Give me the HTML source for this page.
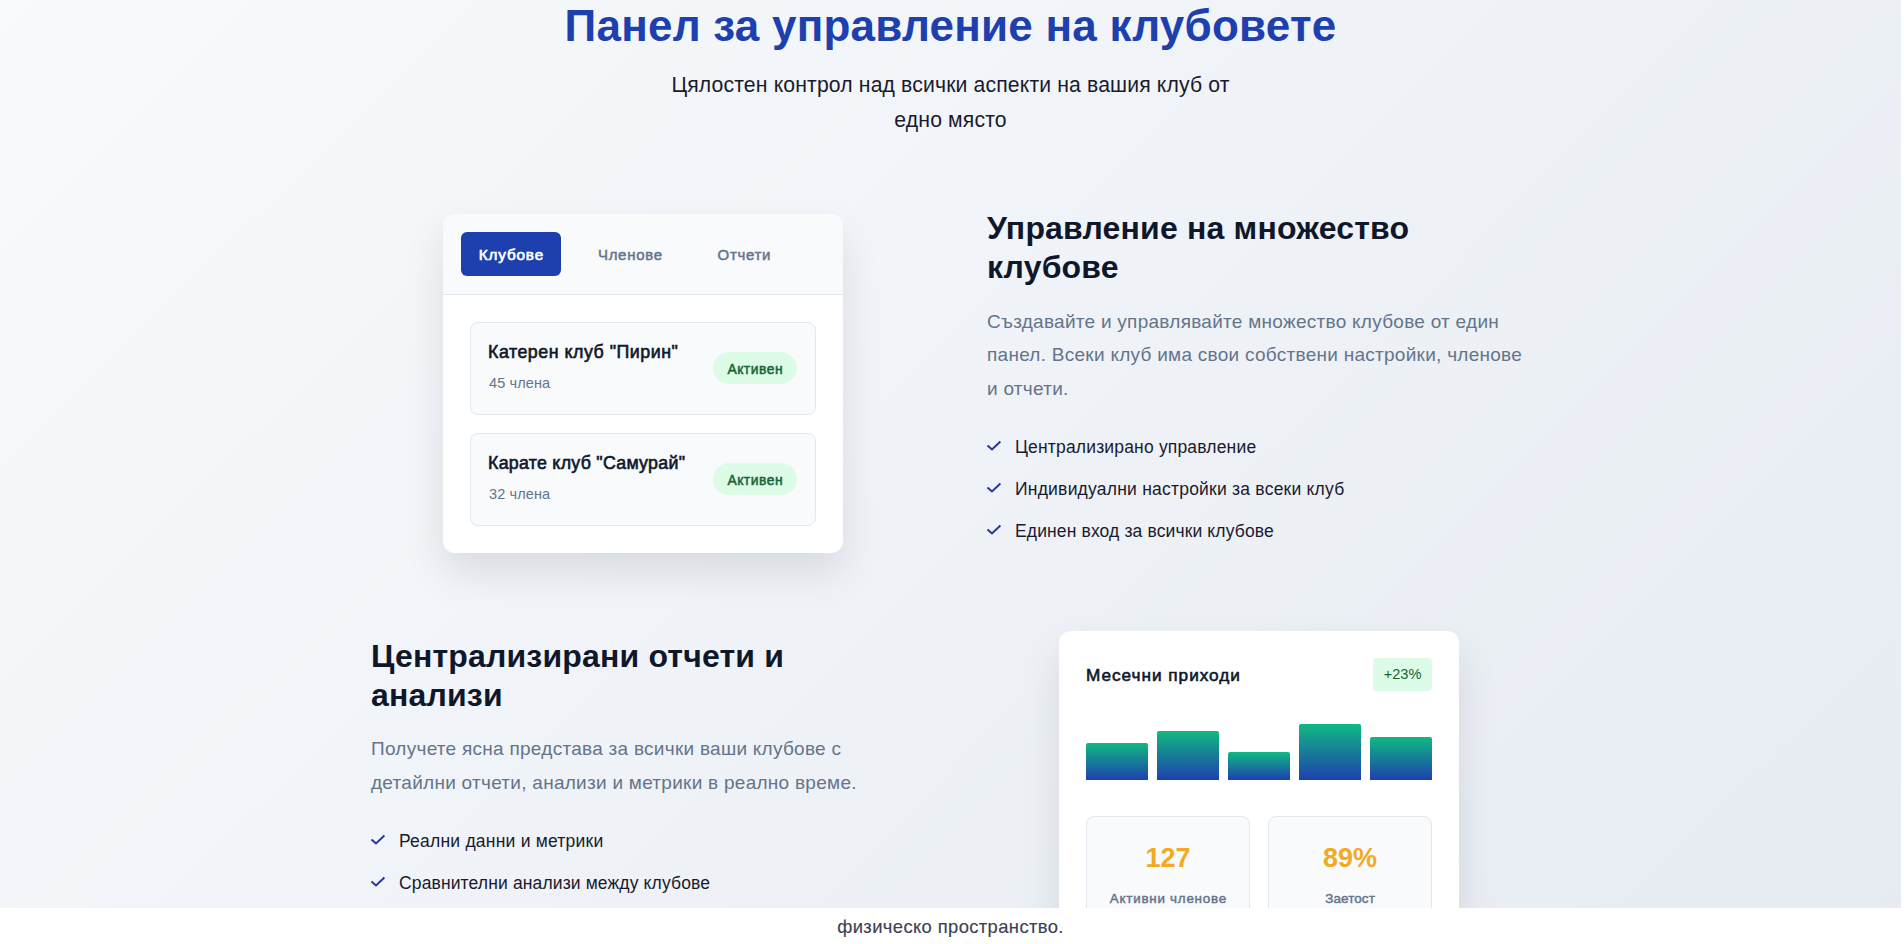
<!DOCTYPE html>
<html lang="bg">
<head>
<meta charset="utf-8">
<title>Панел за управление на клубовете</title>
<style>
*{box-sizing:border-box;margin:0;padding:0}
html,body{width:1904px;height:944px;overflow:hidden;background:#fff}
body{font-family:"Liberation Sans",sans-serif;color:#1a1a2e;position:relative}
.section{position:absolute;left:0;top:0;width:1901px;height:1585px;background:linear-gradient(135deg,#f8fafc 0%,#e2e8f0 100%)}
.abs{position:absolute;white-space:nowrap}
h1{position:absolute;left:0;width:1901px;top:-1px;text-align:center;font-size:44px;line-height:54px;font-weight:700;color:#1e40af;letter-spacing:.23px;white-space:nowrap}
.sub{position:absolute;left:600px;width:701px;top:68.3px;text-align:center;font-size:21.2px;line-height:34.4px;color:#1a1a2e;letter-spacing:.14px;white-space:nowrap}
h2{position:absolute;font-size:32px;line-height:38.8px;font-weight:700;color:#0f172a;white-space:nowrap;letter-spacing:.18px}
.p{position:absolute;font-size:19px;line-height:33.7px;color:#64748b;white-space:nowrap;letter-spacing:.27px}
.li{position:absolute;font-size:17.5px;line-height:25px;color:#1a1a2e;white-space:nowrap;padding-left:28px;letter-spacing:.22px}
.li svg{position:absolute;left:0;top:0;width:16px;height:25px;overflow:visible}
.card{position:absolute;width:400px;background:#fff;border-radius:12px;box-shadow:0 20px 40px rgba(0,0,0,.1)}
.tabs{height:81px;background:#f8fafc;border-bottom:1px solid #e2e8f0;position:relative;border-radius:12px 12px 0 0}
.tab{position:absolute;top:18px;height:44px;line-height:44px;padding-top:1px;font-size:15px;font-weight:400;-webkit-text-stroke:.5px currentColor;color:#64748b;border-radius:6px;text-align:center;letter-spacing:.7px;text-indent:.7px}
.tab.on{background:#1e40af;color:#fff;font-size:15.3px;-webkit-text-stroke:.65px currentColor;letter-spacing:.82px;text-indent:.82px}
.club{position:absolute;left:27px;width:346px;height:93px;background:#f8fafc;border:1px solid #e2e8f0;border-radius:8px}
.club .t{position:absolute;left:17px;top:17px;font-size:17.8px;line-height:24px;font-weight:400;-webkit-text-stroke:.6px currentColor;letter-spacing:.43px;color:#0f172a;white-space:nowrap}
.club .s{position:absolute;left:18px;top:49.5px;font-size:14.5px;line-height:20px;color:#64748b;white-space:nowrap;letter-spacing:.12px}
.badge{position:absolute;right:18px;top:29px;width:84px;height:32px;border-radius:16px;background:#dcfce7;color:#166534;font-size:13.9px;font-weight:400;-webkit-text-stroke:.5px currentColor;letter-spacing:.5px;text-indent:.5px;line-height:34px;text-align:center}
.bar{position:absolute;bottom:0;width:62px;border-radius:2px 2px 0 0;background:linear-gradient(180deg,#10b981 0%,#1e40af 100%)}
.stat{position:absolute;top:185px;width:164px;height:120px;background:#f8fafc;border:1px solid #e2e8f0;border-radius:8px;text-align:center}
.stat .n{position:absolute;left:0;right:0;top:23px;font-size:27px;line-height:36px;font-weight:700;color:#f1aa22}
.stat .l{position:absolute;left:0;right:0;top:73px;font-size:13.4px;line-height:18px;font-weight:400;-webkit-text-stroke:.45px currentColor;letter-spacing:.75px;text-indent:.75px;color:#64748b}
.bottom{position:absolute;left:0;top:908px;width:1904px;height:36px;background:#fff}
.bottom .tx{position:absolute;left:0;width:1901px;top:6px;text-align:center;font-size:18.4px;line-height:26px;color:#3c4150;letter-spacing:.38px;-webkit-text-stroke:.15px currentColor}
</style>
</head>
<body>
<div class="section">
  <h1>Панел за управление на клубовете</h1>
  <p class="sub">Цялостен контрол над всички аспекти на вашия клуб от<br>едно място</p>

  <div class="card" style="left:443px;top:214px;height:339px">
    <div class="tabs">
      <div class="tab on" style="left:18px;width:100px">Клубове</div>
      <div class="tab" style="left:137px;width:100px">Членове</div>
      <div class="tab" style="left:256px;width:90px">Отчети</div>
    </div>
    <div class="club" style="top:108px">
      <div class="t" style="letter-spacing:.53px">Катерен клуб "Пирин"</div>
      <div class="s">45 члена</div>
      <div class="badge">Активен</div>
    </div>
    <div class="club" style="top:219px">
      <div class="t" style="letter-spacing:.28px">Карате клуб "Самурай"</div>
      <div class="s">32 члена</div>
      <div class="badge">Активен</div>
    </div>
  </div>

  <h2 style="left:987px;top:209px">Управление на множество<br>клубове</h2>
  <p class="p" style="left:987px;top:304.5px">Създавайте и управлявайте множество клубове от един<br>панел. Всеки клуб има свои собствени настройки, членове<br>и отчети.</p>
  <div class="li" style="left:987px;top:434.5px;letter-spacing:0.17px"><svg viewBox="0 0 16 25"><path d="M0.5 10.4 L5 14.5 L13.4 6.6" fill="none" stroke="#25379a" stroke-width="2"/></svg>Централизирано управление</div>
  <div class="li" style="left:987px;top:476.5px"><svg viewBox="0 0 16 25"><path d="M0.5 10.4 L5 14.5 L13.4 6.6" fill="none" stroke="#25379a" stroke-width="2"/></svg>Индивидуални настройки за всеки клуб</div>
  <div class="li" style="left:987px;top:518.5px;letter-spacing:0.13px"><svg viewBox="0 0 16 25"><path d="M0.5 10.4 L5 14.5 L13.4 6.6" fill="none" stroke="#25379a" stroke-width="2"/></svg>Единен вход за всички клубове</div>

  <h2 style="left:371px;top:637px">Централизирани отчети и<br>анализи</h2>
  <p class="p" style="left:371px;top:732px">Получете ясна представа за всички ваши клубове с<br>детайлни отчети, анализи и метрики в реално време.</p>
  <div class="li" style="left:371px;top:828.5px"><svg viewBox="0 0 16 25"><path d="M0.5 10.4 L5 14.5 L13.4 6.6" fill="none" stroke="#25379a" stroke-width="2"/></svg>Реални данни и метрики</div>
  <div class="li" style="left:371px;top:870.5px;letter-spacing:0.13px"><svg viewBox="0 0 16 25"><path d="M0.5 10.4 L5 14.5 L13.4 6.6" fill="none" stroke="#25379a" stroke-width="2"/></svg>Сравнителни анализи между клубове</div>

  <div class="card" style="left:1059px;top:631px;height:360px">
    <div class="abs" style="left:27px;top:31.5px;font-size:17.2px;line-height:24px;letter-spacing:.98px;font-weight:400;-webkit-text-stroke:.6px currentColor;color:#0f172a">Месечни приходи</div>
    <div class="abs" style="left:314px;top:27px;width:59px;height:33px;border-radius:4px;background:#dcfce7;color:#166534;font-size:14.6px;line-height:33px;text-align:center">+23%</div>
    <div style="position:absolute;left:27px;top:69px;width:346px;height:80px">
      <div class="bar" style="left:0;height:37px"></div>
      <div class="bar" style="left:71px;height:49px"></div>
      <div class="bar" style="left:142px;height:28px"></div>
      <div class="bar" style="left:213px;height:56px"></div>
      <div class="bar" style="left:284px;height:43px"></div>
    </div>
    <div class="stat" style="left:27px"><div class="n">127</div><div class="l">Активни членове</div></div>
    <div class="stat" style="left:209px"><div class="n">89%</div><div class="l" style="letter-spacing:.15px;text-indent:.15px">Заетост</div></div>
  </div>
</div>
<div class="bottom"><div class="tx">физическо пространство.</div></div>
</body>
</html>
